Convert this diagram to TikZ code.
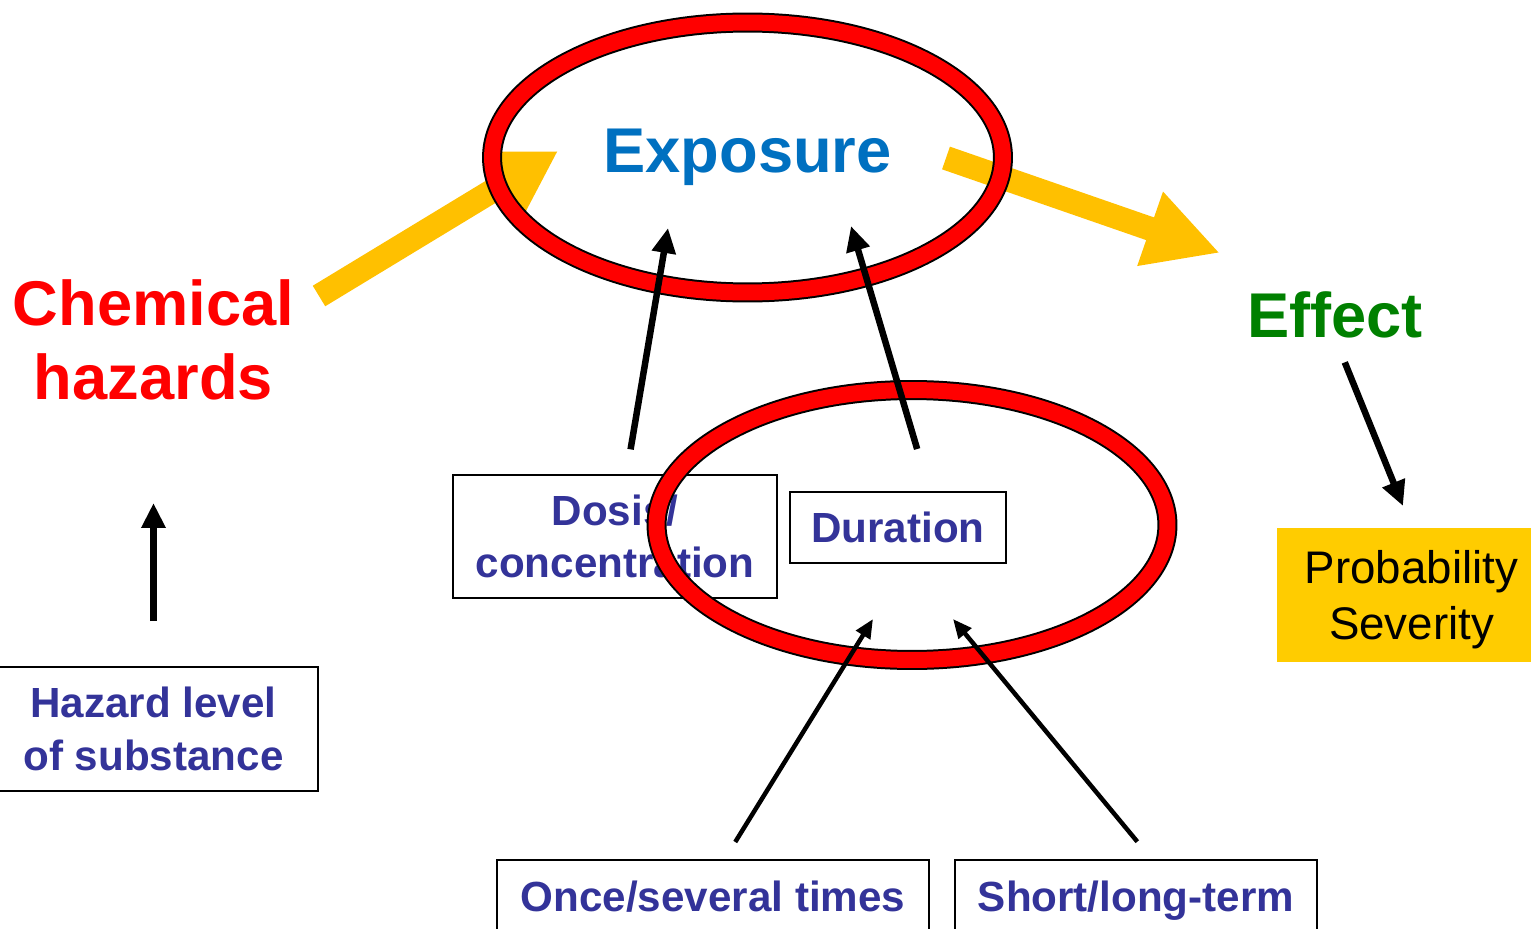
\documentclass[tikz,border=0pt]{standalone}
\usepackage{fontspec}
\setmainfont{Liberation Sans}
\usetikzlibrary{arrows.meta,shapes.geometric,calc}
\definecolor{factorblue}{HTML}{333399}
\definecolor{exposureblue}{HTML}{0070C0}
\definecolor{effectgreen}{HTML}{008000}
\definecolor{flowgold}{HTML}{FFC000}
\definecolor{resultgold}{HTML}{FFCC00}

\begin{document}
\begin{tikzpicture}[x=0.02cm,y=-0.02cm,
  factorbox/.style={draw=black, line width=0.04cm, inner sep=0pt, align=center,
    text=factorblue, font=\bfseries\fontsize{24}{30}\selectfont},
  oneline/.style={text height=17.5pt, text depth=0pt},
  ring/.style={ellipse, draw=black, double=red, line width=0.04cm,
    double distance=0.32cm, minimum width=10.22cm, minimum height=5.4cm, inner sep=0pt},
  title/.style={inner sep=0pt, align=center, text depth=0pt,
    font=\bfseries\fontsize{36}{42.5}\selectfont},
  flow/.style={draw=flowgold, line width=0.48cm},
  link/.style={draw=black, line width=0.13cm, -{Triangle[length=0.5cm,width=0.46cm]}},
  sublink/.style={draw=black, line width=0.09cm, -{Triangle[length=0.38cm,width=0.32cm]}},
]
\useasboundingbox (0,0) rectangle (1531,929);
\fill[white] (0,0) rectangle (1531,929);

% end points of the connectors
\coordinate (chemOut) at (319,296);
\coordinate (expIn) at (558,151);
\coordinate (expOut) at (946,158);
\coordinate (effIn) at (1220,253);
\coordinate (expTipA) at (668,228);
\coordinate (expTipB) at (851,226);
\coordinate (chemTip) at (153.5,503);
\coordinate (probTip) at (1403,506);
\coordinate (ringTipA) at (873,619);
\coordinate (ringTipB) at (953,619);

% broad flow arrows
\draw[flow, -{Triangle[length=1.26cm,width=1.4cm]}] (chemOut) -- (expIn);
\draw[flow, -{Triangle[length=1.48cm,width=1.46cm]}] (expOut) -- (effIn);

% labels and factor boxes
\node[title, text=red] (chem) at (153.5,339.5) {Chemical\\hazards};
\node[title, text=effectgreen] (effect) at (1335,315) {Effect};
\node[factorbox, minimum width=6.58cm, minimum height=2.48cm] (hazard) at (153.5,729) {Hazard level\\of substance};
\node[factorbox, minimum width=6.48cm, minimum height=2.46cm] (dosis) at (615,536.5) {Dosis/\\concentration};
\node[factorbox, oneline, minimum width=4.32cm, minimum height=1.42cm] (duration) at (898,527.5) {Duration};
\node[factorbox, oneline, minimum width=8.64cm, minimum height=1.46cm] (once) at (713,896.5) {Once/several times};
\node[factorbox, oneline, minimum width=7.24cm, minimum height=1.46cm] (short) at (1136,896.5) {Short/long-term};
\node[fill=resultgold, inner sep=0pt, align=center, text depth=0pt,
  minimum width=5.39cm, minimum height=2.68cm,
  font=\fontsize{26}{32.3}\selectfont] (prob) at (1411.5,595) {Probability\\Severity};

% the two rings
\node[ring, text=exposureblue, font=\bfseries\fontsize{36}{42.5}\selectfont] (exposure) at (747.5,157.5) {Exposure};
\node[ring] (timering) at (912,525) {};

% influence arrows
\draw[link, shorten <=0.5cm] ($(dosis.north)!0.07!(dosis.north east)$) -- (expTipA);
\draw[link, shorten <=0.876cm] ($(duration.north)!0.29!(duration.north east)$) -- (expTipB);
\draw[link, shorten <=0.9cm] (hazard.north) -- (chemTip);
\draw[link, shorten <=0.52cm] (effect.south) -- (probTip);
\draw[sublink, shorten <=0.4cm] ($(once.north)!0.054!(once.north east)$) -- (ringTipA);
\draw[sublink, shorten <=0.45cm] ($(short.north)!0.086!(short.north east)$) -- (ringTipB);
\end{tikzpicture}
\end{document}
